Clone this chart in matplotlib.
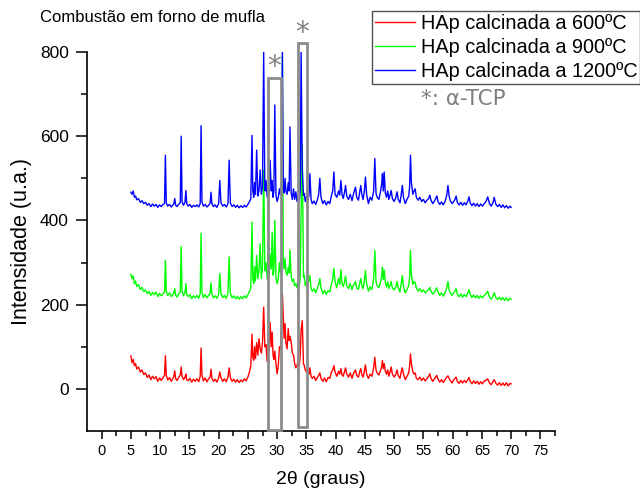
import matplotlib
matplotlib.use("Agg")
import matplotlib.pyplot as plt
from matplotlib.patches import Rectangle

plt.rcParams['font.family'] = ['Liberation Sans', 'DejaVu Sans']

# ---------------- data ----------------
two_theta = [
    5.0, 5.2, 5.4, 5.6, 5.8, 6.0, 6.3, 6.6, 6.9, 7.2,
    7.5, 7.8, 8.1, 8.4, 8.7, 9.0, 9.3, 9.6, 9.9, 10.2,
    10.5, 10.75, 10.9, 11.05, 11.3, 11.6, 11.9, 12.2, 12.35, 12.5,
    12.65, 12.9, 13.2, 13.45, 13.6, 13.75, 14.0, 14.25, 14.4, 14.55,
    14.8, 15.1, 15.4, 15.7, 16.0, 16.3, 16.6, 16.85, 17.0, 17.15,
    17.4, 17.7, 18.0, 18.3, 18.55, 18.7, 18.85, 19.1, 19.4, 19.7,
    20.0, 20.2, 20.4, 20.7, 21.0, 21.3, 21.6, 21.8, 22.0, 22.3,
    22.6, 22.9, 23.2, 23.5, 23.8, 24.1, 24.4, 24.7, 25.0, 25.3,
    25.5, 25.7, 25.85, 26.0, 26.15, 26.3, 26.5, 26.7, 26.9, 27.1,
    27.3, 27.5, 27.7, 27.9, 28.1, 28.3, 28.5, 28.65, 28.8, 29.0,
    29.15, 29.3, 29.45, 29.6, 29.8, 30.0, 30.2, 30.4, 30.6, 30.75,
    30.9, 31.05, 31.2, 31.35, 31.5, 31.7, 31.9, 32.05, 32.2, 32.4,
    32.6, 32.8, 33.0, 33.2, 33.4, 33.6, 33.8, 33.95, 34.1, 34.3,
    34.5, 34.65, 34.8, 35.0, 35.15, 35.3, 35.45, 35.6, 35.8, 36.0,
    36.3, 36.6, 36.9, 37.1, 37.3, 37.5, 37.8, 38.1, 38.4, 38.7,
    39.0, 39.3, 39.5, 39.7, 39.9, 40.2, 40.5, 40.7, 40.9, 41.1,
    41.3, 41.5, 41.7, 41.9, 42.2, 42.5, 42.8, 43.0, 43.2, 43.4,
    43.6, 43.9, 44.1, 44.3, 44.5, 44.7, 44.9, 45.1, 45.3, 45.6,
    45.9, 46.2, 46.5, 46.7, 46.9, 47.1, 47.4, 47.7, 47.9, 48.0,
    48.15, 48.3, 48.5, 48.7, 48.9, 49.1, 49.3, 49.5, 49.7, 50.0,
    50.3, 50.5, 50.7, 51.0, 51.2, 51.4, 51.6, 51.9, 52.2, 52.5,
    52.65, 52.8, 52.95, 53.2, 53.4, 53.6, 53.8, 54.1, 54.4, 54.7,
    55.0, 55.3, 55.6, 55.9, 56.1, 56.3, 56.6, 56.9, 57.1, 57.3,
    57.5, 57.8, 58.1, 58.4, 58.7, 59.0, 59.2, 59.4, 59.6, 59.9,
    60.2, 60.4, 60.6, 60.8, 61.1, 61.4, 61.7, 62.0, 62.3, 62.6,
    62.8, 63.0, 63.3, 63.6, 63.9, 64.2, 64.5, 64.8, 65.1, 65.4,
    65.7, 66.0, 66.3, 66.6, 66.9, 67.1, 67.4, 67.7, 68.0, 68.3,
    68.6, 68.9, 69.2, 69.5, 69.8, 70.0,
]

i600 = [
    78, 62, 70, 55, 60, 47, 52, 40, 45, 34,
    38, 27, 33, 22, 30, 24, 29, 18, 26, 20,
    27, 32, 79, 33, 21, 27, 18, 25, 30, 43,
    24, 20, 28, 33, 52, 30, 22, 28, 35, 21,
    20, 25, 16, 23, 18, 24, 17, 30, 97, 32,
    19, 26, 17, 24, 28, 47, 26, 18, 23, 16,
    26, 40, 27, 18, 24, 17, 28, 50, 27, 18,
    23, 16, 22, 15, 21, 17, 24, 19, 28, 42,
    55, 130, 75, 68, 100, 72, 110, 80, 119, 95,
    85, 110, 194, 100, 105, 65, 120, 90, 158, 100,
    135, 80, 70, 90, 60, 36, 55, 100, 95, 150,
    226, 170, 120, 155, 110, 95, 143, 115, 125, 111,
    85, 80, 60, 50, 55, 70, 55, 80, 140, 162,
    60, 55, 45, 40, 48, 40, 35, 50, 30, 25,
    30, 20, 28, 32, 38, 25, 18, 26, 17, 27,
    25, 40, 45, 55, 40, 30, 42, 35, 48, 33,
    30, 40, 50, 35, 28, 38, 25, 35, 40, 45,
    32, 28, 40, 48, 33, 28, 40, 57, 35, 25,
    35, 30, 50, 75, 45, 38, 33, 45, 55, 67,
    48, 60, 42, 35, 45, 30, 40, 52, 35, 28,
    35, 45, 32, 25, 40, 50, 35, 22, 30, 38,
    55, 83, 60, 40, 35, 38, 25, 22, 28, 20,
    26, 19, 24, 30, 36, 25, 18, 24, 28, 32,
    23, 16, 22, 15, 22, 28, 31, 25, 20, 14,
    22, 25, 28, 18, 13, 20, 14, 20, 15, 22,
    27, 18, 12, 19, 13, 18, 11, 17, 12, 19,
    20, 24, 14, 10, 17, 22, 13, 9, 15, 8,
    14, 8, 15, 7, 13, 12,
]

i900 = [
    272, 262, 268, 250, 256, 243, 248, 236, 241, 231,
    235, 226, 232, 222, 229, 224, 230, 219, 227, 221,
    226, 230, 305, 232, 222, 228, 219, 225, 229, 238,
    223, 218, 226, 230, 338, 232, 221, 229, 250, 224,
    219, 224, 214, 221, 216, 222, 215, 226, 370, 230,
    217, 224, 216, 222, 228, 252, 226, 216, 221, 215,
    224, 274, 226, 217, 222, 215, 227, 313, 228, 216,
    221, 214, 220, 213, 219, 214, 221, 216, 224, 232,
    240, 396, 262, 250, 290, 256, 317, 262, 280, 345,
    262, 290, 519, 280, 300, 262, 352, 270, 320, 285,
    372, 270, 285, 400, 265, 250, 262, 300, 275, 330,
    790, 300, 285, 310, 278, 270, 289, 275, 330, 268,
    255, 260, 245, 250, 240, 255, 245, 265, 420, 580,
    265, 270, 245, 250, 262, 269, 255, 269, 240, 232,
    238, 228, 240, 248, 262, 240, 226, 234, 224, 233,
    230, 250, 260, 286, 255, 240, 262, 248, 283, 250,
    243, 252, 268, 245, 238, 250, 236, 245, 250, 255,
    240, 236, 250, 262, 245, 238, 255, 281, 250, 232,
    242, 236, 262, 329, 255, 245, 240, 255, 270, 289,
    260, 282, 252, 242, 255, 238, 246, 255, 240, 235,
    242, 255, 240, 230, 250, 269, 243, 228, 236, 245,
    265, 329, 272, 248, 255, 252, 240, 232, 238, 230,
    235, 228, 232, 236, 241, 232, 225, 230, 236, 240,
    230, 222, 228, 220, 228, 240, 255, 236, 228, 222,
    228, 232, 238, 225, 219, 226, 218, 224, 219, 228,
    236, 224, 217, 223, 216, 222, 215, 221, 216, 222,
    226, 232, 218, 213, 220, 228, 216, 212, 218, 211,
    217, 210, 216, 209, 215, 213,
]

i1200 = [
    467, 462, 470, 455, 458, 449, 452, 443, 447, 440,
    443, 436, 440, 433, 439, 434, 438, 431, 437, 433,
    438, 440, 555, 442, 434, 438, 432, 437, 440, 452,
    436, 433, 439, 442, 600, 445, 436, 443, 471, 440,
    434, 438, 431, 436, 433, 437, 432, 440, 625, 444,
    434, 438, 432, 436, 441, 467, 440, 433, 437, 431,
    440, 495, 442, 434, 438, 432, 440, 543, 442, 433,
    437, 431, 436, 430, 435, 431, 436, 432, 438, 445,
    452, 602, 470, 455, 490, 462, 567, 458, 470, 520,
    462, 480, 800, 470, 495, 455, 470, 460, 543, 470,
    495, 455, 470, 674, 460, 445, 455, 475, 460, 490,
    800, 480, 465, 500, 470, 462, 490, 470, 622, 465,
    450, 475, 450, 468, 445, 460, 448, 470, 800, 520,
    460, 464, 445, 455, 470, 450, 460, 511, 450, 440,
    446, 438, 450, 462, 500, 455, 440, 447, 437, 445,
    440, 460, 470, 515, 462, 455, 470, 460, 495, 462,
    452, 465, 483, 458, 450, 462, 447, 460, 470, 479,
    455, 448, 465, 483, 460, 450, 468, 503, 462, 440,
    455, 448, 470, 547, 465, 455, 450, 470, 490, 511,
    470, 515, 465, 455, 470, 450, 460, 471, 452, 445,
    455, 468, 450, 442, 460, 483, 455, 440, 450, 458,
    480, 555, 490, 462, 470, 475, 455, 448, 455, 445,
    450, 442, 448, 452, 460, 448, 440, 446, 452, 458,
    445, 438, 444, 437, 445, 460, 483, 458, 447, 440,
    445, 450, 458, 443, 437, 443, 436, 442, 437, 446,
    456, 442, 435, 441, 434, 440, 433, 439, 434, 440,
    445, 456, 440, 434, 442, 455, 438, 433, 438, 431,
    437, 430, 435, 429, 434, 431,
]

series_labels = ["HAp calcinada a 600ºC", "HAp calcinada a 900ºC", "HAp calcinada a 1200ºC"]
series_colors = ["#ff0000", "#00ff00", "#0000ff"]

# alpha-TCP marker boxes: (start 2theta, end 2theta, bottom, top)
tcp_boxes = [(28.4, 30.6, -98, 738), (33.6, 35.1, -90, 821)]

x_ticks = list(range(0, 80, 5))
y_ticks = [0, 200, 400, 600, 800]

# ---------------- figure ----------------
fig = plt.figure(figsize=(6.4, 4.9), dpi=100)
ax = fig.add_axes([87 / 640, 1 - 431 / 490, 468 / 640, 379 / 490])

for ys, lab, col in zip([i600, i900, i1200], series_labels, series_colors):
    ax.plot(two_theta, ys, color=col, lw=1.0, label=lab)

for x0, x1, b, t in tcp_boxes:
    ax.add_patch(Rectangle((x0, b), x1 - x0, t - b, fill=False,
                           edgecolor="#8c8c8c", lw=2.0, clip_on=False, zorder=5))
    ax.text((x0 + x1) / 2, t - 8, "*", color="#808080", fontsize=20,
            ha="center", va="bottom", family="DejaVu Sans", clip_on=False)

ax.set_xlim(-2.5, 77.1)
ax.set_ylim(-100, 800)
ax.set_xticks(x_ticks)
ax.set_xticks([v + 2.5 for v in x_ticks], minor=True)
ax.set_yticks(y_ticks)
ax.set_yticks([100, 300, 500, 700], minor=True)
ax.tick_params(axis="both", which="major", direction="out", length=6, width=1.1, colors="black")
ax.tick_params(axis="both", which="minor", direction="out", length=3.5, width=1.1)
ax.tick_params(axis="y", which="major", length=8)
ax.tick_params(axis="y", which="minor", length=4)
ax.tick_params(axis="x", labelsize=10.5)
ax.tick_params(axis="y", labelsize=12.5, pad=5)

for s in ["top", "right"]:
    ax.spines[s].set_visible(False)
for s in ["left", "bottom"]:
    ax.spines[s].set_linewidth(1.2)

ax.set_xlabel("2θ (graus)", fontsize=14, labelpad=9)
ax.set_ylabel("Intensidade (u.a.)", fontsize=15.5, labelpad=6)

fig.text(153 / 640, 1 - 18 / 490, "Combustão em forno de mufla", fontsize=12,
         ha="center", va="center")

leg = fig.legend(loc="upper left", bbox_to_anchor=(372 / 640, 1 - 11 / 490),
                 fontsize=14.3, frameon=True, fancybox=False, edgecolor="#505050",
                 framealpha=1, borderaxespad=0, borderpad=0.15, labelspacing=0.25,
                 handlelength=2.0, handletextpad=0.3)
leg.get_frame().set_linewidth(1.0)

fig.text(421 / 640, 1 - 99 / 490, "*: α-TCP", fontsize=15.5, color="#808080",
         ha="left", va="center", family="DejaVu Sans")

fig.savefig("out.png", dpi=100)
